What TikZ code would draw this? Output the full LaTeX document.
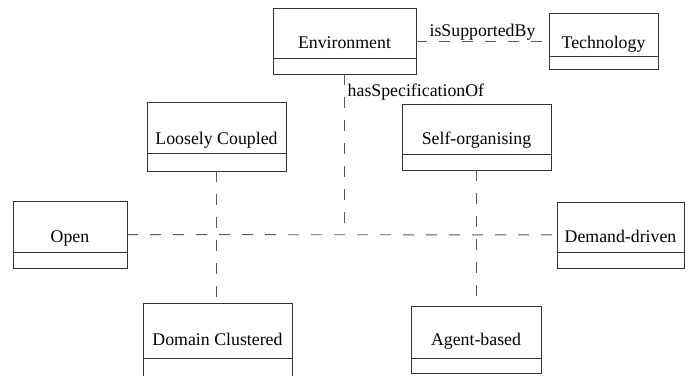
\documentclass[tikz,border=0pt]{standalone}
\usepackage{fontspec}
\setmainfont{Liberation Serif}
\newfontfamily\classfont{Liberation Serif}
\usetikzlibrary{fit}

% class box: name, x1, y1, x2, y2, divider y, text baseline y, title
\newcommand\umlclass[8]{%
  \path (#2,#3) coordinate (#1-nw) (#4,#5) coordinate (#1-se);
  \node[classbox, fit=(#1-nw)(#1-se)] (#1) {};
  \draw[classline] (#2,#6) -- (#4,#6);
  \node[classtitle] (#1-title) at ({(#2+#4)/2},#7) {#8};
}

\begin{document}
\begin{tikzpicture}[x=1pt, y=-1pt,
  classbox/.style={draw=black!80, line width=0.9pt, inner sep=0pt, outer sep=0pt},
  classline/.style={draw=black!80, line width=0.9pt},
  classtitle/.style={anchor=base, inner sep=0pt, font=\classfont\fontsize{17.8}{20}\selectfont},
  link/.style={draw=black!65, line width=0.9pt, dash pattern=on 11pt off 12pt},
  linklabel/.style={inner sep=1pt, font=\classfont\fontsize{17.8}{20}\selectfont}]
  \clip (0,0) rectangle (690,375);
  \fill[white] (0,0) rectangle (690,375);

  \umlclass{env}{273}{8}{416}{74}{58}{48}{Environment}
  \umlclass{tech}{549}{13}{658}{69}{56}{48}{Technology}
  \umlclass{lc}{147}{102}{286}{171}{153}{144}{Loosely Coupled}
  \umlclass{so}{402}{104}{551}{170}{154}{144}{Self-organising}
  \umlclass{open}{13}{201}{127}{268}{252}{242}{Open}
  \umlclass{dd}{557}{202}{684}{268}{252}{242}{Demand-driven}
  \umlclass{dc}{143}{303}{292}{392}{358}{345}{Domain Clustered}
  \umlclass{ab}{411}{306}{541}{373}{358}{345}{Agent-based}

  % associations
  \draw[link] (env) -- node[linklabel, above, yshift=-1pt] (supp) {isSupportedBy} (tech);
  \draw[link] (open) -- (dd);
  \draw[link] (env) -- (env |- open);
  \node[linklabel, anchor=base west] (spec) at ([xshift=2pt, yshift=-22pt]env.south) {hasSpecificationOf};
  \draw[link] (lc) -- (lc |- dc.north);
  \draw[link] (so) -- (so |- ab.north);
\end{tikzpicture}
\end{document}
